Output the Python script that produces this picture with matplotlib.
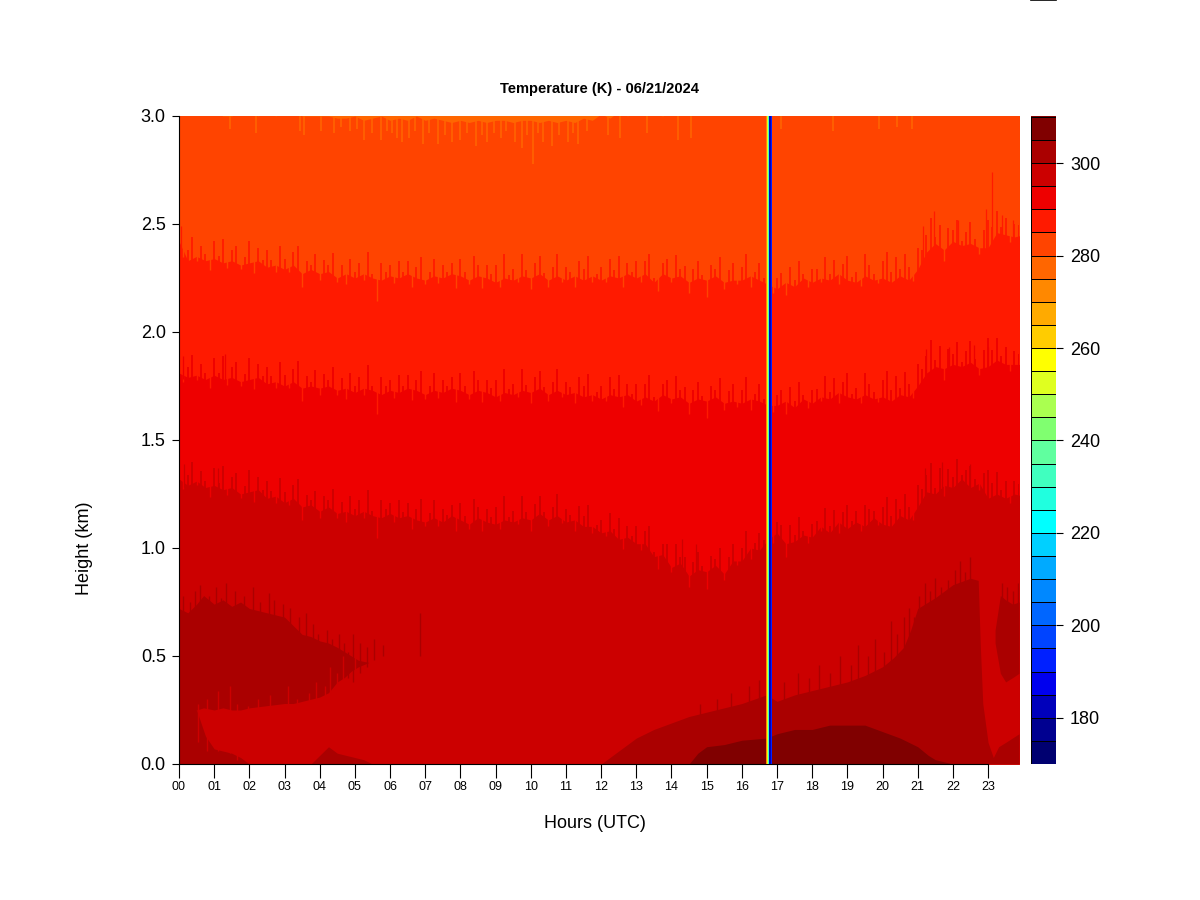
import numpy as np
import matplotlib
matplotlib.use('Agg')
import matplotlib.pyplot as plt
from matplotlib.colors import ListedColormap, BoundaryNorm

plt.rcParams['font.family'] = ['Liberation Sans', 'DejaVu Sans']

# colour key, one colour per 5 K class from 170 upward
levels = list(range(170, 315, 5))
key_colors = ['#000070', '#000090', '#0000BB', '#0000EE', '#0020FF', '#0044FF', '#0066FF',
              '#0088FF', '#00AAFF', '#00D0FF', '#00FFFF', '#20FFDF', '#40FFBF', '#60FF9F',
              '#80FF70', '#AAFF50', '#DFFF20', '#FFFF00', '#FFCC00', '#FFAA00', '#FF8800',
              '#FF6600', '#FF4400', '#FF1A00', '#EE0000', '#CC0000', '#AA0000', '#800000']

# class boundaries in km, read every quarter hour
hrs = [i * 0.25 for i in range(97)]

b275 = [3.02, 3.02, 3.02, 3.02, 3.02, 3.00, 3.00, 3.02, 3.02, 3.00, 3.02, 3.00, 3.02, 3.02, 3.00, 3.00,
        3.00, 3.00, 2.99, 2.99, 3.00, 2.98, 2.99, 3.00, 2.98, 2.99, 2.98, 3.00, 2.98, 2.99, 2.98, 2.97,
        2.98, 2.97, 2.98, 2.97, 2.98, 2.98, 2.97, 2.98, 2.98, 2.97, 2.98, 2.97, 2.98, 2.97, 2.99, 2.98,
        3.01, 2.99, 3.02, 3.00, 3.02, 3.02, 3.01, 3.00, 3.02, 3.02, 3.02, 3.02, 3.02, 3.02, 3.02, 3.02,
        3.02, 3.02, 3.02, 3.02, 3.02, 3.02, 3.02, 3.02, 3.02, 3.02, 3.02, 3.02, 3.02, 3.02, 3.02, 3.02,
        3.02, 3.02, 3.02, 3.02, 3.02, 3.02, 3.02, 3.02, 3.02, 3.02, 3.02, 3.02, 3.02, 3.02, 3.02, 3.02, 3.02]

b285 = [2.42, 2.33, 2.35, 2.33, 2.34, 2.32, 2.33, 2.31, 2.32, 2.33, 2.30, 2.31, 2.29, 2.31, 2.27, 2.29,
        2.27, 2.28, 2.25, 2.27, 2.25, 2.27, 2.25, 2.24, 2.26, 2.25, 2.27, 2.25, 2.24, 2.26, 2.25, 2.27,
        2.26, 2.24, 2.26, 2.25, 2.23, 2.25, 2.24, 2.26, 2.25, 2.27, 2.24, 2.26, 2.24, 2.26, 2.24, 2.26,
        2.24, 2.26, 2.25, 2.27, 2.25, 2.27, 2.23, 2.27, 2.25, 2.26, 2.23, 2.25, 2.24, 2.26, 2.23, 2.24,
        2.24, 2.26, 2.24, 2.22, 2.20, 2.23, 2.21, 2.25, 2.23, 2.25, 2.24, 2.27, 2.24, 2.23, 2.26, 2.24,
        2.25, 2.23, 2.26, 2.24, 2.29, 2.37, 2.41, 2.38, 2.42, 2.40, 2.41, 2.39, 2.39, 2.46, 2.45, 2.44, 2.45]

b290 = [1.81, 1.79, 1.80, 1.78, 1.80, 1.78, 1.79, 1.77, 1.78, 1.79, 1.76, 1.77, 1.75, 1.77, 1.74, 1.75,
        1.74, 1.75, 1.73, 1.74, 1.72, 1.74, 1.73, 1.71, 1.73, 1.72, 1.74, 1.73, 1.71, 1.73, 1.72, 1.74,
        1.73, 1.71, 1.73, 1.72, 1.70, 1.72, 1.71, 1.73, 1.72, 1.74, 1.71, 1.73, 1.71, 1.72, 1.70, 1.71,
        1.69, 1.71, 1.70, 1.71, 1.68, 1.70, 1.68, 1.71, 1.69, 1.70, 1.67, 1.69, 1.68, 1.70, 1.67, 1.68,
        1.67, 1.69, 1.68, 1.66, 1.66, 1.68, 1.65, 1.69, 1.67, 1.70, 1.69, 1.72, 1.70, 1.69, 1.71, 1.69,
        1.70, 1.68, 1.71, 1.70, 1.75, 1.81, 1.84, 1.83, 1.85, 1.84, 1.86, 1.83, 1.84, 1.87, 1.85, 1.85, 1.85]

b295 = [1.32, 1.29, 1.31, 1.28, 1.29, 1.27, 1.28, 1.25, 1.26, 1.27, 1.23, 1.24, 1.21, 1.23, 1.19, 1.20,
        1.17, 1.19, 1.16, 1.17, 1.15, 1.17, 1.15, 1.14, 1.16, 1.14, 1.15, 1.13, 1.12, 1.14, 1.12, 1.15,
        1.13, 1.11, 1.14, 1.12, 1.11, 1.13, 1.12, 1.14, 1.13, 1.16, 1.13, 1.15, 1.12, 1.13, 1.10, 1.10,
        1.07, 1.08, 1.04, 1.05, 1.02, 1.02, 0.96, 0.97, 0.91, 0.93, 0.87, 0.90, 0.89, 0.92, 0.88, 0.94,
        0.94, 1.00, 0.99, 1.04, 1.07, 1.02, 1.03, 1.06, 1.05, 1.10, 1.07, 1.12, 1.09, 1.12, 1.10, 1.14,
        1.11, 1.10, 1.15, 1.13, 1.19, 1.26, 1.25, 1.29, 1.28, 1.32, 1.28, 1.30, 1.23, 1.25, 1.23, 1.25, 1.24]

# profile to profile scatter read along the boundaries, every 7.5 minutes, km
scatter_h = [i * 0.125 for i in range(192)]
scatter = [0.08, -0.03, 0.05, 0.10, -0.02, 0.06, 0.03, -0.05, 0.08, 0.02, 0.11, -0.03, 0.05, 0.08, -0.02, 0.03,
           0.10, -0.05, 0.06, 0.02, 0.08, 0.03, -0.03, 0.10, 0.05, -0.02, 0.06, 0.11, -0.06, 0.05, 0.02, 0.08,
           -0.03, 0.06, 0.03, 0.10, -0.02, 0.05, -0.05, 0.08, 0.03, 0.06, -0.03, 0.11, 0.02, -0.10, 0.08, 0.03,
           0.05, -0.03, 0.08, 0.02, 0.06, -0.05, 0.05, 0.10, -0.02, 0.03, 0.08, -0.03, 0.06, 0.02, 0.05, -0.06,
           0.08, 0.03, -0.02, 0.10, 0.05, -0.05, 0.06, 0.03, 0.08, -0.03, 0.11, 0.02, 0.05, -0.02, 0.10, 0.03,
           -0.05, 0.06, 0.08, 0.02, -0.03, 0.05, 0.10, -0.02, 0.06, 0.03, -0.05, 0.08, 0.05, 0.10, -0.03, 0.02,
           0.06, -0.02, 0.08, 0.03, 0.10, -0.05, 0.05, 0.02, 0.08, -0.03, 0.06, 0.11, 0.02, -0.06, 0.05, 0.08,
           -0.02, 0.10, 0.03, 0.06, -0.05, 0.05, 0.08, 0.02, -0.08, 0.06, 0.03, 0.10, -0.03, 0.05, 0.08, -0.02,
           0.06, 0.11, -0.05, 0.03, 0.08, 0.02, 0.10, -0.03, 0.05, 0.06, -0.06, 0.08, 0.03, 0.10, 0.02, -0.03,
           0.06, 0.05, -0.02, 0.10, 0.03, 0.08, -0.05, 0.06, 0.11, 0.02, 0.05, -0.03, 0.10, 0.06, 0.03, -0.02,
           0.08, 0.13, 0.05, 0.10, 0.03, 0.11, 0.06, -0.03, 0.10, 0.05, 0.08, 0.14, 0.03, 0.10, -0.05, 0.08,
           0.05, 0.11, 0.02, 0.06, 0.10, 0.03, -0.03, 0.08, 0.13, 0.06, 0.10, 0.03, 0.08, -0.03, 0.06, 0.05]

# single tall spikes that stick out of the boundaries: hour, height km
spike_275_h = [1.45, 2.2, 3.45, 3.55, 4.05, 4.4, 4.6, 4.85, 5.05, 5.25, 5.5, 5.75, 5.9, 6.05, 6.2, 6.35, 6.55, 6.7, 6.95, 7.1, 7.35, 7.55, 7.75, 8.0, 8.2,
               8.45, 8.6, 8.75, 8.95, 9.15, 9.3, 9.55, 9.75, 9.9, 10.05, 10.2, 10.35, 10.6, 10.8, 11.05, 11.2, 11.35, 11.6, 12.2, 12.55, 13.3, 14.2, 14.55, 17.1, 18.6, 19.9, 20.4, 20.85]
spike_275_y = [2.94, 2.92, 2.93, 2.91, 2.93, 2.92, 2.95, 2.93, 2.94, 2.89, 2.92, 2.89, 2.93, 2.92, 2.90, 2.88, 2.90, 2.93, 2.87, 2.92, 2.87, 2.91, 2.88, 2.89, 2.92,
               2.86, 2.91, 2.88, 2.92, 2.90, 2.93, 2.88, 2.85, 2.91, 2.78, 2.92, 2.88, 2.86, 2.91, 2.88, 2.92, 2.87, 2.93, 2.91, 2.90, 2.92, 2.89, 2.90, 2.94, 2.93, 2.94, 2.95, 2.94]

spike_285_h = [0.05, 21.15, 21.45, 22.15, 22.95, 23.1, 23.4, 23.7]
spike_285_y = [2.49, 2.49, 2.56, 2.52, 2.57, 2.74, 2.54, 2.52]
spike_290_h = [0.1, 1.3, 21.25, 21.9, 22.6, 23.0]
spike_290_y = [1.89, 1.90, 1.92, 1.93, 1.94, 1.93]
spike_295_h = [0.15, 1.1, 14.3, 14.7, 21.2, 21.7, 22.5]
spike_295_y = [1.39, 1.37, 1.04, 1.02, 1.37, 1.40, 1.39]

# 300-305 K patches
morning_h = [0, 0.25, 0.5, 0.7, 1.0, 1.25, 1.5, 1.75, 2.0, 2.5, 3.0, 3.25, 3.5, 3.75, 4.0, 4.25, 4.5, 4.7, 4.9, 5.1, 5.4]
morning_top = [0.72, 0.70, 0.74, 0.78, 0.74, 0.76, 0.73, 0.75, 0.72, 0.70, 0.68, 0.64, 0.60, 0.59, 0.57, 0.56, 0.54, 0.52, 0.50, 0.48, 0.47]
morning_low = [0.25, 0.24, 0.25, 0.26, 0.25, 0.26, 0.25, 0.25, 0.26, 0.27, 0.28, 0.28, 0.29, 0.30, 0.31, 0.33, 0.38, 0.40, 0.43, 0.45, 0.47]
patch_a_h = [0, 0.25, 0.5, 0.75, 1.0, 1.25, 1.5, 1.75, 2.0]
patch_a_top = [0.26, 0.26, 0.25, 0.13, 0.07, 0.06, 0.05, 0.03, 0.0]
patch_b_h = [3.75, 4.0, 4.25, 4.5, 4.75, 5.0, 5.25, 5.5]
patch_b_top = [0.0, 0.04, 0.08, 0.05, 0.04, 0.03, 0.02, 0.0]
evening_h = [12.0, 12.5, 13.0, 13.5, 14.0, 14.5, 15.0, 15.5, 16.0, 16.7, 17.0, 17.5, 18.0, 18.5, 19.0, 19.5, 20.0, 20.3, 20.6,
             20.8, 21.0, 21.5, 22.0, 22.5, 22.72, 22.78, 22.85, 23.0, 23.15, 23.3, 23.5, 23.88]
evening_top = [0.0, 0.06, 0.12, 0.16, 0.19, 0.22, 0.24, 0.26, 0.28, 0.32, 0.29, 0.32, 0.34, 0.36, 0.38, 0.41, 0.45, 0.49, 0.54,
               0.62, 0.72, 0.77, 0.83, 0.86, 0.85, 0.55, 0.28, 0.10, 0.03, 0.08, 0.10, 0.14]
late_h = [23.2, 23.35, 23.5, 23.7, 23.88]
late_top = [0.62, 0.78, 0.76, 0.74, 0.75]
late_low = [0.56, 0.42, 0.38, 0.40, 0.42]

# fuzzy edges of the 300-305 K patches: hour, from km, to km
fuzz_h = [0.1, 0.3, 0.45, 0.6, 0.85, 1.05, 1.2, 1.35, 1.6, 1.85, 2.1, 2.3, 2.55, 2.7, 2.95, 3.15, 3.4, 3.6, 3.8, 3.95, 4.2, 4.35, 4.55, 4.7, 4.8, 4.95, 5.15, 5.35, 5.55, 5.8, 6.85,
          14.8, 15.3, 15.7, 16.2, 16.5, 17.2, 17.6, 17.9, 18.2, 18.5, 18.8, 19.1, 19.3, 19.6, 19.8, 20.05, 20.25, 20.4, 20.6, 20.75, 20.9, 21.05, 21.2, 21.35, 21.5, 21.65, 21.85, 22.05, 22.2, 22.35, 22.5, 23.4, 23.55, 23.7, 23.85]
fuzz_low = [0.60, 0.60, 0.60, 0.60, 0.60, 0.60, 0.60, 0.60, 0.60, 0.60, 0.55, 0.55, 0.55, 0.55, 0.55, 0.55, 0.50, 0.50, 0.50, 0.50, 0.50, 0.45, 0.45, 0.45, 0.40, 0.38, 0.42, 0.45, 0.48, 0.50, 0.50,
            0.20, 0.20, 0.22, 0.24, 0.26, 0.26, 0.28, 0.30, 0.30, 0.32, 0.32, 0.34, 0.36, 0.36, 0.40, 0.40, 0.42, 0.44, 0.48, 0.50, 0.55, 0.60, 0.60, 0.65, 0.65, 0.68, 0.70, 0.72, 0.74, 0.75, 0.76, 0.60, 0.60, 0.60, 0.60]
fuzz_high = [0.78, 0.75, 0.80, 0.83, 0.78, 0.82, 0.77, 0.84, 0.80, 0.78, 0.82, 0.75, 0.79, 0.76, 0.74, 0.72, 0.68, 0.70, 0.65, 0.60, 0.62, 0.58, 0.60, 0.56, 0.52, 0.60, 0.56, 0.54, 0.58, 0.55, 0.70,
             0.28, 0.30, 0.33, 0.36, 0.39, 0.38, 0.42, 0.40, 0.46, 0.42, 0.50, 0.46, 0.55, 0.50, 0.58, 0.52, 0.66, 0.60, 0.68, 0.72, 0.68, 0.78, 0.84, 0.80, 0.86, 0.82, 0.85, 0.90, 0.94, 0.89, 0.96, 0.84, 0.82, 0.80, 0.84]
# lighter streaks cutting up into the morning patch from below
notch_h = [0.55, 0.8, 1.1, 1.45, 1.65, 1.95, 2.25, 2.6, 3.1, 3.35, 3.7, 3.9, 4.15, 4.3, 4.5, 4.65, 5.0]
notch_low = [0.10, 0.06, 0.06, 0.05, 0.02, 0.02, 0.02, 0.02, 0.02, 0.02, 0.02, 0.10, 0.12, 0.12, 0.10, 0.10, 0.40]
notch_high = [0.28, 0.30, 0.34, 0.36, 0.28, 0.27, 0.30, 0.32, 0.36, 0.30, 0.33, 0.38, 0.36, 0.45, 0.42, 0.50, 0.60]

# 305-310 K patch
warm_h = [14.5, 14.75, 15.0, 15.5, 16.0, 16.7, 17.0, 17.5, 18.0, 18.5, 19.0, 19.5, 20.0, 20.5, 21.0, 21.3, 21.5, 22.0]
warm_top = [0.0, 0.05, 0.08, 0.09, 0.11, 0.12, 0.14, 0.16, 0.16, 0.18, 0.18, 0.18, 0.15, 0.12, 0.08, 0.04, 0.02, 0.0]

# the bad data profile around 16.8 h
bad_hours = [16.69, 16.72, 16.75, 16.78, 16.80, 16.83, 16.85]
bad_temps = [270, 252, 232, 210, 182, 190]

hour_labels = ['%02d' % h for h in range(24)]
height_ticks = [0.0, 0.5, 1.0, 1.5, 2.0, 2.5, 3.0]
key_ticks = [180, 200, 220, 240, 260, 280, 300]

cmap = ListedColormap(key_colors)
norm = BoundaryNorm(levels, cmap.N)
c275, c280, c285, c290, c295, c300, c305 = key_colors[21:]


def comb(ax, bound, lower, upper):
    base = np.interp(scatter_h, hrs, bound)
    off = np.array(scatter)
    up = off > 0
    ax.vlines(np.array(scatter_h)[up], base[up] - 0.02, base[up] + off[up], color=lower, lw=1.3)
    ax.vlines(np.array(scatter_h)[~up], base[~up] + off[~up], base[~up] + 0.02, color=upper, lw=1.0)


fig = plt.figure(figsize=(12, 9), dpi=100)
ax = fig.add_axes([179 / 1200, 1 - 764 / 900, 840 / 1200, 648 / 900])

ax.fill_between(hrs, 0, 3.02, color=c275, lw=0)
ax.fill_between(hrs, 0, b275, color=c280, lw=0)
ax.vlines(spike_275_h, spike_275_y, 3.0, color=c275, lw=1.1)
ax.fill_between(hrs, 0, b285, color=c285, lw=0)
comb(ax, b285, c285, c280)
ax.vlines(spike_285_h, np.interp(spike_285_h, hrs, b285) - 0.02, spike_285_y, color=c285, lw=0.9)
ax.fill_between(hrs, 0, b290, color=c290, lw=0)
comb(ax, b290, c290, c285)
ax.vlines(spike_290_h, np.interp(spike_290_h, hrs, b290) - 0.02, spike_290_y, color=c290, lw=0.9)
ax.fill_between(hrs, 0, b295, color=c295, lw=0)
comb(ax, b295, c295, c290)
ax.vlines(spike_295_h, np.interp(spike_295_h, hrs, b295) - 0.02, spike_295_y, color=c295, lw=0.9)

ax.fill_between(morning_h, morning_low, morning_top, color=c300, lw=0)
ax.fill_between(patch_a_h, 0, patch_a_top, color=c300, lw=0)
ax.fill_between(patch_b_h, 0, patch_b_top, color=c300, lw=0)
ax.fill_between(evening_h, 0, evening_top, color=c300, lw=0)
ax.fill_between(late_h, late_low, late_top, color=c300, lw=0)
ax.vlines(fuzz_h, fuzz_low, fuzz_high, color=c300, lw=1.0)
ax.vlines(notch_h, notch_low, notch_high, color=c295, lw=1.0)
ax.fill_between(warm_h, 0, warm_top, color=c305, lw=0)

ax.pcolormesh(bad_hours, [0, 3], [bad_temps], cmap=cmap, norm=norm, snap=False, zorder=5)

ax.set_xlim(0, 23.88)
ax.set_ylim(0, 3)
ax.set_xticks(range(24))
ax.set_xticklabels(hour_labels, fontsize=9)
ax.set_yticks(height_ticks)
ax.set_yticklabels(['%.1f' % v for v in height_ticks], fontsize=13)
ax.tick_params(axis='x', length=10, width=0.8, pad=2)
ax.tick_params(axis='y', length=5, width=0.8, pad=4.5)
ax.spines['top'].set_visible(False)
ax.spines['right'].set_visible(False)
ax.spines['bottom'].set_bounds(0, 23)

# colour key
cax = fig.add_axes([1031 / 1200, 1 - 764 / 900, 25 / 1200, 648 / 900])
cax.axhspan(310, 311, color=c305, lw=0)
cax.pcolormesh([0, 1], levels, np.array(levels[:-1]).reshape(-1, 1) + 2.5, cmap=cmap, norm=norm,
               edgecolors='black', linewidth=0.4)
cax.set_xlim(0, 1)
cax.set_ylim(170, 310.2)
cax.set_xticks([])
cax.yaxis.tick_right()
cax.set_yticks(key_ticks)
cax.set_yticklabels([str(v) for v in key_ticks], fontsize=13)
cax.tick_params(axis='y', length=5, width=0.8, pad=5)
for s in cax.spines.values():
    s.set_visible(False)

fig.text(599 / 1200, 1 - 89 / 900, 'Temperature (K) - 06/21/2024', fontsize=10.5, fontweight='bold', ha='center', va='center')
fig.text(595 / 1200, 1 - 823.5 / 900, 'Hours (UTC)', fontsize=13, ha='center', va='center')
fig.text(84 / 1200, 1 - 548 / 900, 'Height (km)', fontsize=13, rotation=90, ha='center', va='center')
fig.add_artist(plt.Line2D([1031 / 1200, 1056 / 1200], [0.9995, 0.9995], color='black', lw=1.2))

fig.savefig('out.png', dpi=100)
